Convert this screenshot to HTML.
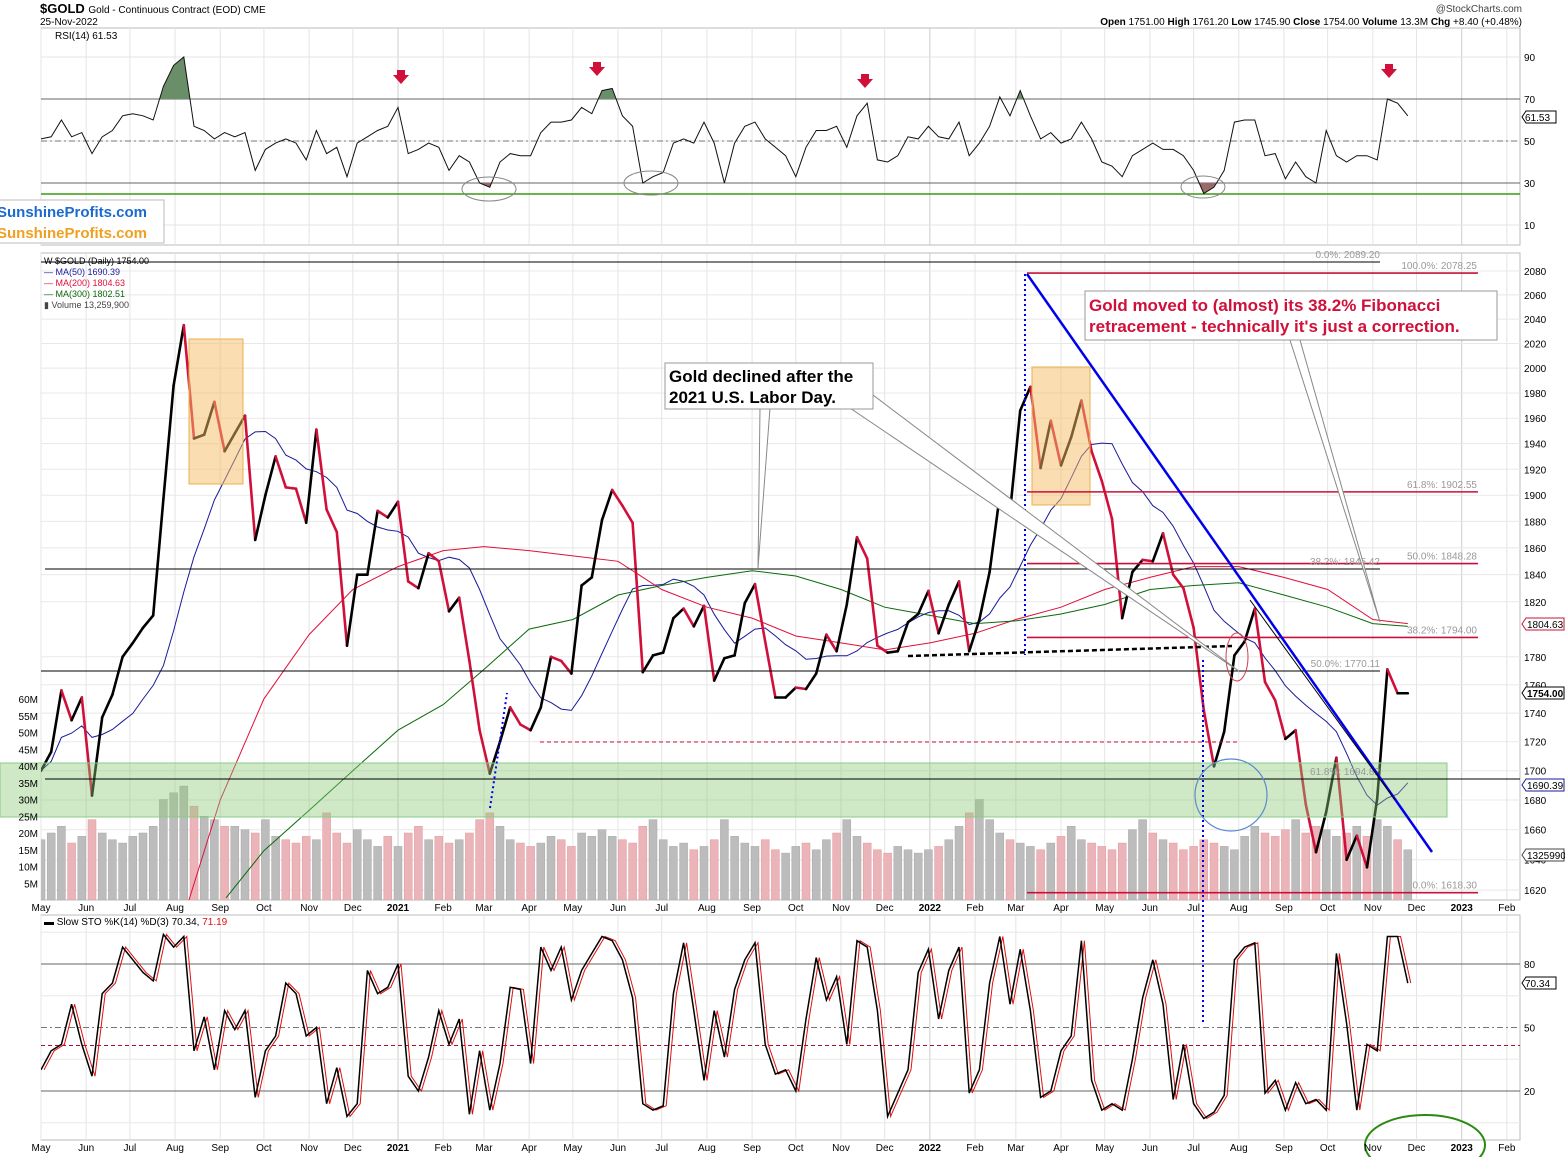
<!DOCTYPE html>
<html><head><meta charset="utf-8"><title>$GOLD chart</title>
<style>
html,body{margin:0;padding:0;background:#fff;}
svg{display:block;font-family:"Liberation Sans",Arial,sans-serif;}
.ax{font-size:10px;fill:#000;}
.fib{font-size:10px;fill:#999;}
</style></head>
<body>
<svg id="chart" width="1565" height="1157" viewBox="0 0 1565 1157" xmlns="http://www.w3.org/2000/svg">
  <defs>
    <clipPath id="rsiTop"><rect x="41" y="28" width="1479" height="71"/></clipPath>
    <clipPath id="rsiBot"><rect x="41" y="183" width="1479" height="60"/></clipPath>
    <clipPath id="mainClip"><rect x="41" y="253" width="1479" height="647"/></clipPath>
    <clipPath id="stoClip"><rect x="41" y="915" width="1479" height="225"/></clipPath>
  </defs>
  <text x="40" y="13" style="font-size:13px;font-weight:bold">$GOLD <tspan style="font-size:10px;font-weight:normal">Gold - Continuous Contract (EOD)  CME</tspan></text>
  <text x="40" y="25" style="font-size:10px">25-Nov-2022</text>
  <text x="1522" y="12" text-anchor="end" style="font-size:10px;fill:#444">@StockCharts.com</text>
  <text x="1522" y="25" text-anchor="end" style="font-size:10px"><tspan font-weight="bold">Open</tspan> 1751.00  <tspan font-weight="bold">High</tspan> 1761.20  <tspan font-weight="bold">Low</tspan> 1745.90  <tspan font-weight="bold">Close</tspan> 1754.00  <tspan font-weight="bold">Volume</tspan> 13.3M  <tspan font-weight="bold">Chg</tspan> +8.40 (+0.48%)</text>

  <rect x="41" y="28" width="1479" height="217" fill="#fff" stroke="#bbb"/>
  <rect x="41" y="253" width="1479" height="647" fill="#fff" stroke="#bbb"/>
  <rect x="41" y="915" width="1479" height="225" fill="#fff" stroke="#bbb"/>
  <g id="grid"></g>
  <g id="rsiG"></g>
  <g id="mainG" clip-path="url(#mainClip)"></g>
  <g id="annot"></g>
  <g id="stoG"></g>
  <g id="axes"></g>
</svg>
<script>
const closes = [
1700,1713,1756,1735,1751,1683,1737,1753,1780,1790,1801,1810,1897,1986,2035,1944,1947,1973,1934,1948,
1962,1866,1900,1930,1906,1905,1879,1951,1889,1872,1788,1840,1840,1888,1883,1895,1835,1830,1856,1850,
1813,1823,1777,1728,1698,1720,1744,1732,1728,1744,1780,1777,1768,1832,1838,1881,1904,1892,1879,1769,
1781,1783,1808,1815,1802,1817,1763,1779,1781,1819,1833,1791,1751,1751,1758,1757,1768,1796,1784,1818,
1868,1852,1788,1783,1784,1805,1811,1828,1797,1818,1835,1784,1807,1842,1900,1887,1966,1985,1921,1958,
1923,1945,1974,1934,1911,1882,1808,1842,1851,1850,1871,1840,1830,1801,1742,1703,1727,1781,1791,1815,
1762,1749,1722,1728,1677,1645,1672,1709,1640,1656,1635,1681,1771,1754,1754];
const volumes = [
18,20,22,17,19,24,20,18,17,19, 20,22,30,32,34,28,25,24,22,22, 21,20,24,19,18,17,19,18,26,20,
17,21,18,16,19,16,20,22,18,19, 17,18,20,24,26,22,18,17,16,17, 19,18,16,20,19,21,19,18,17,22,
24,18,16,17,15,16,18,24,19,17, 16,18,15,14,16,17,15,18,20,24, 19,17,15,14,16,15,14,15,16,18,
22,26,30,24,20,18,17,16,15,17, 19,22,18,17,16,15,17,21,24,20, 18,17,15,16,18,17,16,15,19,22,
20,19,21,24,20,22,21,19,20,22, 19,24,22,18,15];
const rsiVals = [
51,52,60,52,54,44,52,55,62,63,62,60,76,86,90,57,55,51,54,52,
54,36,46,49,51,49,41,55,44,47,33,49,52,55,57,66,44,46,49,47,
36,43,40,30,28,40,44,43,43,54,59,59,60,66,63,74,75,62,57,30,
33,35,49,51,49,59,49,30,49,57,59,51,47,43,33,47,55,55,57,47,
62,68,41,40,43,52,51,57,52,51,59,43,49,57,71,62,74,62,51,54,
49,51,59,51,40,38,33,43,46,49,46,46,43,36,25,28,36,59,60,60,
43,44,32,40,33,30,55,43,40,43,43,41,70,68,62];
const stoK = [
30,39,42,61,42,27,66,71,88,82,76,72,94,88,93,39,55,30,58,49,
58,17,39,46,71,66,46,50,14,31,8,14,77,66,69,80,27,20,36,58,
42,54,9,39,11,33,69,68,33,88,77,88,63,77,85,93,91,82,64,14,
11,13,66,90,58,25,58,36,68,82,90,42,28,30,20,54,83,63,74,42,
91,88,58,8,19,30,76,87,54,77,88,19,30,71,93,61,87,58,17,20,
39,46,91,25,11,14,11,35,64,82,61,16,42,14,7,10,18,82,88,90,
19,25,11,24,14,16,11,85,52,11,42,39,93,93,71];
const ma200Dates = ["2020-08-10","2020-09-01","2020-10-01","2020-11-01","2020-12-01","2021-01-01","2021-02-01","2021-03-01","2021-04-01","2021-05-01","2021-06-01","2021-07-01","2021-08-01","2021-09-01","2021-10-01","2021-11-01","2021-12-01","2022-01-01","2022-02-01","2022-03-01","2022-04-01","2022-05-01","2022-06-01","2022-07-01","2022-08-01","2022-09-01","2022-10-01","2022-11-01","2022-11-25"];
const ma200Vals = [1612,1680,1750,1796,1829,1846,1858,1861,1858,1854,1850,1829,1816,1808,1795,1790,1785,1790,1797,1807,1816,1829,1838,1846,1846,1838,1829,1807,1804];
const ma300Dates = ["2020-09-05","2020-10-01","2020-11-01","2020-12-01","2021-01-01","2021-02-01","2021-03-01","2021-04-01","2021-05-01","2021-06-01","2021-07-01","2021-08-01","2021-09-01","2021-10-01","2021-11-01","2021-12-01","2022-01-01","2022-02-01","2022-03-01","2022-04-01","2022-05-01","2022-06-01","2022-07-01","2022-08-01","2022-09-01","2022-10-01","2022-11-01","2022-11-25"];
const ma300Vals = [1615,1646,1673,1700,1728,1746,1771,1800,1807,1825,1832,1838,1843,1839,1829,1816,1810,1804,1806,1811,1818,1829,1832,1834,1825,1816,1804,1802];
const monthLabels = ["May","Jun","Jul","Aug","Sep","Oct","Nov","Dec","2021","Feb","Mar","Apr","May","Jun","Jul","Aug","Sep","Oct","Nov","Dec","2022","Feb","Mar","Apr","May","Jun","Jul","Aug","Sep","Oct","Nov","Dec","2023","Feb"];
const priceTicks = [2080,2060,2040,2020,2000,1980,1960,1940,1920,1900,1880,1860,1840,1820,1780,1760,1740,1720,1700,1680,1660,1640,1620];
const volTicks = [5,10,15,20,25,30,35,40,45,50,55,60];
const rsiTicks = [90,70,50,30,10];
const stoTicks = [80,50,20];

const NS = "http://www.w3.org/2000/svg";
const X0 = 41, WEEK = 10.2;
const t0 = Date.UTC(2020,4,1);
function xIdx(i){ return X0 + WEEK*i; }
function xDate(s){ const d = new Date(s+"T00:00:00Z"); return X0 + (d - t0)/86400000 * WEEK/7; }
function yP(p){ return 271 + (Math.log(2080)-Math.log(p))*2477; }
function yV(v){ return 900 - v*3.35; }
function yR(v){ return 99 + (70-v)*2.1; }
function yS(v){ return 964 + (80-v)*2.117; }
function el(tag, attrs, parent){ const e = document.createElementNS(NS, tag); for (const k in attrs) e.setAttribute(k, attrs[k]); parent.appendChild(e); return e; }

const grid = document.getElementById('grid');
const axes = document.getElementById('axes');
const mainG = document.getElementById('mainG');
const rsiG = document.getElementById('rsiG');
const stoG = document.getElementById('stoG');
const annot = document.getElementById('annot');

const monthX = monthLabels.map((m, k) => { const d = Date.UTC(2020, 4 + k, 1); return X0 + (d - t0)/86400000 * WEEK/7; });
monthX.forEach((x, k) => {
  [[28,245],[253,900],[915,1140]].forEach(r => {
    const l = el('line', {x1:x, x2:x, y1:r[0], y2:r[1], stroke: monthLabels[k].length===4 ? '#ccc' : '#e4e4e4', 'stroke-width':1}, grid);
    
    
  });
  [907, 1147].forEach(y => {
    const t = el('text', {x:x, y:y+4, 'text-anchor':'middle', class:'ax', 'font-weight': monthLabels[k].length===4 ? 'bold':'normal'}, axes);
    t.textContent = monthLabels[k];
    
    
  });
});

rsiTicks.forEach(v => {
  const l = el('line', {x1:41, x2:1520, y1:yR(v), y2:yR(v), stroke:'#e4e4e4'}, grid);
  
  
  const t = el('text', {x:1524, y:yR(v)+4, class:'ax'}, axes);
  t.textContent = v;
  
  
});
[[70,'#666',''],[30,'#666',''],[50,'#777','6,3,2,3']].forEach(a => {
  const l = el('line', {x1:41, x2:1520, y1:yR(a[0]), y2:yR(a[0]), stroke:a[1], 'stroke-dasharray':a[2]}, rsiG);
  
  
});
const gl = el('line', {x1:41, x2:1520, y1:194, y2:194, stroke:'#3a9a10', 'stroke-width':1.5}, rsiG);


const rsiPts = rsiVals.map((v,i) => xIdx(i)+','+yR(v).toFixed(1));
const rsiFillTop = el('polygon', {points: xIdx(0)+','+yR(70)+' '+rsiPts.join(' ')+' '+xIdx(rsiVals.length-1)+','+yR(70), fill:'#6a8f68', 'clip-path':'url(#rsiTop)'}, rsiG);


const rsiFillBot = el('polygon', {points: xIdx(0)+','+yR(30)+' '+rsiPts.join(' ')+' '+xIdx(rsiVals.length-1)+','+yR(30), fill:'#9a6a6a', 'clip-path':'url(#rsiBot)'}, rsiG);


const rsiLine = el('polyline', {points: rsiPts.join(' '), fill:'none', stroke:'#111', 'stroke-width':1}, rsiG);


const rsiLbl = el('text', {x:55, y:39, style:'font-size:10px'}, rsiG);
rsiLbl.textContent = 'RSI(14) 61.53';



priceTicks.forEach(p => {
  const l = el('line', {x1:41, x2:1520, y1:yP(p), y2:yP(p), stroke:'#e8e8e8'}, grid);
  
  
  const t = el('text', {x:1524, y:yP(p)+4, class:'ax'}, axes);
  t.textContent = p;
  
  
});
volTicks.forEach(v => {
  const t = el('text', {x:38, y:yV(v)+4, class:'ax', 'text-anchor':'end'}, axes);
  t.textContent = v+'M';
  
  
});
volumes.forEach((v,i) => {
  const down = i>0 && closes[i] < closes[i-1];
  const r = el('rect', {x:xIdx(i)-4, y:yV(v), width:8, height:900-yV(v), fill: down ? '#eab4b8' : '#bcbcbc', stroke: down ? '#e09a9f' : '#a8a8a8', 'stroke-width':0.5}, mainG);
  
  
});
const zone = el('rect', {x:0, y:763, width:1447, height:54, fill:'rgba(140,200,120,0.42)', stroke:'#8c8', 'stroke-width':1}, annot);


[[189,339,54,145],[1032,367,58,138]].forEach(b => {
  const r = el('rect', {x:b[0], y:b[1], width:b[2], height:b[3], fill:'rgba(245,190,100,0.5)', stroke:'#e8b050'}, annot);
  
  
});
[[41,1380,262],[45,1380,569],[41,1380,671],[45,1520,779]].forEach(h => {
  const l = el('line', {x1:h[0], x2:h[1], y1:h[2], y2:h[2], stroke:'#000', 'stroke-width':1}, annot);
  
  
});
[[2078.25,'100.0%: 2078.25'],[1902.55,'61.8%: 1902.55'],[1848.28,'50.0%: 1848.28'],[1794,'38.2%: 1794.00'],[1618.3,'0.0%: 1618.30']].forEach(f => {
  const l = el('line', {x1:1027, x2:1478, y1:yP(f[0]), y2:yP(f[0]), stroke:'#c8103a', 'stroke-width':1.6}, annot);
  
  
  const t = el('text', {x:1477, y:yP(f[0])-4, class:'fib', 'text-anchor':'end'}, annot);
  t.textContent = f[1];
  
  
});
[['0.0%: 2089.20',1380,258],['38.2%: 1845.42',1380,565],['50.0%: 1770.11',1380,667],['61.8%: 1694.82',1380,775]].forEach(f => {
  const t = el('text', {x:f[1], y:f[2], class:'fib', 'text-anchor':'end'}, annot);
  t.textContent = f[0];
  
  
});
const rdl = el('line', {x1:540, x2:1240, y1:742, y2:742, stroke:'#c8103a', 'stroke-dasharray':'4,3'}, annot);


const bdl = el('line', {x1:908, x2:1232, y1:656, y2:646, stroke:'#000', 'stroke-width':2.5, 'stroke-dasharray':'5,3'}, annot);



const ma50 = closes.map((c,i) => { const s = closes.slice(Math.max(0,i-9), i+1); return s.reduce((a,b)=>a+b,0)/s.length; });
const ma50Line = el('polyline', {points: ma50.map((v,i)=>xIdx(i)+','+yP(v).toFixed(1)).join(' '), fill:'none', stroke:'#1a1a9a', 'stroke-width':1}, mainG);


const ma200Line = el('polyline', {points: ma200Vals.map((v,i)=>xDate(ma200Dates[i]).toFixed(1)+','+yP(v).toFixed(1)).join(' '), fill:'none', stroke:'#e0103a', 'stroke-width':1}, mainG);


const ma300Line = el('polyline', {points: ma300Vals.map((v,i)=>xDate(ma300Dates[i]).toFixed(1)+','+yP(v).toFixed(1)).join(' '), fill:'none', stroke:'#0a6a0a', 'stroke-width':1}, mainG);


closes.forEach((c,i) => {
  if (i===0) return;
  const down = c < closes[i-1];
  const s = el('line', {x1:xIdx(i-1), y1:yP(closes[i-1]), x2:xIdx(i), y2:yP(c), stroke: down ? '#d0103a' : '#000', 'stroke-width':2.6, 'stroke-linecap':'round'}, mainG);
  
  
});

const blue = el('line', {x1:1027, y1:274, x2:1432, y2:852, stroke:'#0000ee', 'stroke-width':2.5}, annot);


const thin = el('line', {x1:1250, y1:600, x2:1395, y2:800, stroke:'#000', 'stroke-width':1}, annot);


[[1025,274,1025,655],[1203,660,1203,1025],[490,808,507,693]].forEach(d => {
  const l = el('line', {x1:d[0], y1:d[1], x2:d[2], y2:d[3], stroke:'#0000ee', 'stroke-width':2, 'stroke-dasharray':'2,3'}, annot);
  
  
});
const bc = el('circle', {cx:1231, cy:795, r:36, fill:'none', stroke:'#5a8ad0', 'stroke-width':1.2}, annot);


const re = el('ellipse', {cx:1237, cy:657, rx:11, ry:24, fill:'none', stroke:'#d04050', 'stroke-width':1}, annot);


[[[760,408],[770,408],[758,568]],[[850,408],[873,395],[1240,672]],[[1290,340],[1300,340],[1380,622]]].forEach(p => {
  const poly = el('polygon', {points: p.map(q=>q.join(',')).join(' '), fill:'#fff', stroke:'#888', 'stroke-width':1}, annot);
  
  
});
const cb1 = el('rect', {x:665, y:363, width:208, height:46, fill:'#fff', stroke:'#999'}, annot);


const ct1 = el('text', {x:669, y:382, style:'font-size:17px;font-weight:bold'}, annot);
ct1.innerHTML = '<tspan x="669">Gold declined after the</tspan><tspan x="669" dy="21">2021 U.S. Labor Day.</tspan>';


const cb2 = el('rect', {x:1085, y:291, width:412, height:49, fill:'#fff', stroke:'#999'}, annot);


const ct2 = el('text', {x:1089, y:311, style:'font-size:17px;font-weight:bold;fill:#d0103a'}, annot);
ct2.innerHTML = '<tspan x="1089">Gold moved to (almost) its 38.2% Fibonacci</tspan><tspan x="1089" dy="21">retracement - technically it\'s just a correction.</tspan>';


const leg = el('text', {x:44, y:264, style:'font-size:9px'}, annot);
leg.innerHTML = '<tspan x="44">W $GOLD (Daily) 1754.00</tspan><tspan x="44" dy="11" fill="#1a1a9a">— MA(50) 1690.39</tspan><tspan x="44" dy="11" fill="#e0103a">— MA(200) 1804.63</tspan><tspan x="44" dy="11" fill="#0a6a0a">— MA(300) 1802.51</tspan><tspan x="44" dy="11" fill="#444">▮ Volume 13,259,900</tspan>';


[[624,'1804.63','#c8103a'],[693,'1754.00','#000'],[785,'1690.39','#1a1a9a'],[855,'1325990','#444']].forEach(v => {
  const r = el('polygon', {points:`1522,${v[0]} 1526,${v[0]-6} 1564,${v[0]-6} 1564,${v[0]+6} 1526,${v[0]+6}`, fill:'#fff', stroke:v[2]}, axes);
  
  
  const t = el('text', {x:1527, y:v[0]+4, class:'ax', 'font-weight': v[1]==='1754.00'?'bold':'normal'}, axes);
  t.textContent = v[1];
  
  
});
const rtag = el('polygon', {points:'1522,117 1526,111 1556,111 1556,123 1526,123', fill:'#fff', stroke:'#000'}, axes);


const rtt = el('text', {x:1525, y:121, class:'ax'}, axes);
rtt.textContent = '61.53';



[[401,78],[597,70],[865,82],[1389,72]].forEach(a => {
  const p = el('polygon', {points:`${a[0]-4},${a[1]-8} ${a[0]+4},${a[1]-8} ${a[0]+4},${a[1]-3} ${a[0]+8},${a[1]-3} ${a[0]},${a[1]+6} ${a[0]-8},${a[1]-3} ${a[0]-4},${a[1]-3}`, fill:'#d0103a'}, rsiG);
  
  
});
[[489,189,27,12],[651,183,27,12],[1203,187,22,11]].forEach(c => {
  const e = el('ellipse', {cx:c[0], cy:c[1], rx:c[2], ry:c[3], fill:'none', stroke:'#888'}, rsiG);
  
  
});
const lb = el('rect', {x:-2, y:200, width:166, height:43, fill:'#fff', stroke:'#bbb'}, annot);


const lt = el('text', {x:-3, y:217, style:'font-size:15px;font-weight:bold'}, annot);
lt.innerHTML = '<tspan x="-3" fill="#1a6ad0">SunshineProfits.com</tspan><tspan x="-3" dy="21" fill="#f0a020">SunshineProfits.com</tspan>';



[95,65,35,5].forEach(v => {
  const l = el('line', {x1:41, x2:1520, y1:yS(v), y2:yS(v), stroke:'#e8e8e8'}, grid);
  
  
});
stoTicks.forEach(v => {
  const t = el('text', {x:1524, y:yS(v)+4, class:'ax'}, axes);
  t.textContent = v;
  
  
});
[[80,'#666',''],[20,'#666',''],[50,'#777','6,3,2,3']].forEach(a => {
  const l = el('line', {x1:41, x2:1520, y1:yS(a[0]), y2:yS(a[0]), stroke:a[1], 'stroke-dasharray':a[2]}, stoG);
  
  
});
const sdl = el('line', {x1:41, x2:1520, y1:yS(41.5), y2:yS(41.5), stroke:'#b01030', 'stroke-dasharray':'4,3'}, stoG);


const dLine = el('polyline', {points: stoK.map((v,i)=>(xIdx(i)+3)+','+yS(v).toFixed(1)).join(' '), fill:'none', stroke:'#e01010', 'stroke-width':1, 'clip-path':'url(#stoClip)'}, stoG);


const kLine = el('polyline', {points: stoK.map((v,i)=>xIdx(i)+','+yS(v).toFixed(1)).join(' '), fill:'none', stroke:'#000', 'stroke-width':1.5, 'clip-path':'url(#stoClip)'}, stoG);


const sl = el('text', {x:44, y:925, style:'font-size:10px'}, stoG);
sl.innerHTML = '▬ Slow STO %K(14) %D(3) 70.34, <tspan fill="#e01010">71.19</tspan>';


const stag = el('polygon', {points:'1522,983 1526,977 1556,977 1556,989 1526,989', fill:'#fff', stroke:'#000'}, axes);


const stt = el('text', {x:1525, y:987, class:'ax'}, axes);
stt.textContent = '70.34';


const ge = el('ellipse', {cx:1425, cy:1145, rx:60, ry:30, fill:'none', stroke:'#2a8a10', 'stroke-width':2}, stoG);


</script>
</body></html>
